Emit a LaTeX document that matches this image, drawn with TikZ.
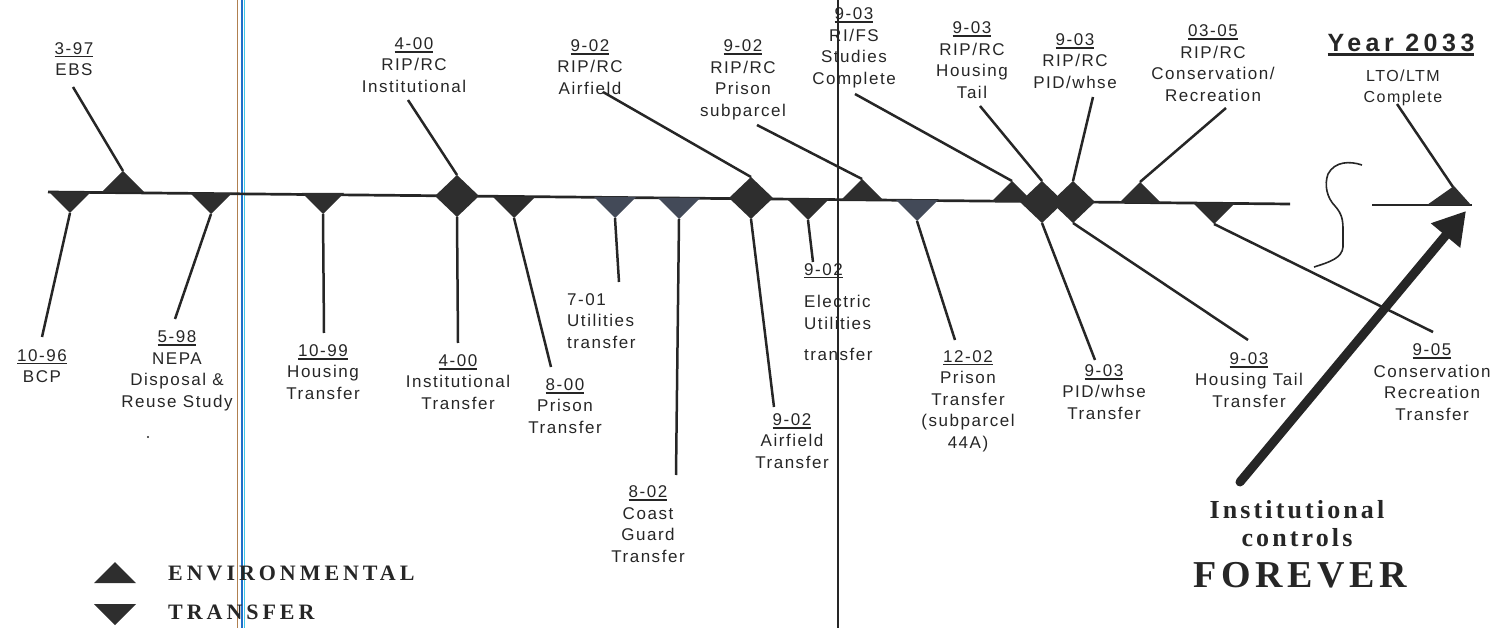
\documentclass[tikz,border=0pt]{standalone}
\usepackage{fontspec}
\setmainfont{Liberation Sans}
\newfontfamily\labfont[LetterSpace=9]{Liberation Sans}
\newfontfamily\yearfont[LetterSpace=18]{Liberation Sans}
\newfontfamily\legfont[LetterSpace=12]{Liberation Serif}
\newfontfamily\keyfont[LetterSpace=18]{Liberation Serif}
\usetikzlibrary{arrows.meta}
\definecolor{ink}{HTML}{262626}
\definecolor{markfill}{HTML}{2E2E2E}
\definecolor{haze}{HTML}{434A58}
\definecolor{scanbrown}{HTML}{B08050}
\definecolor{scanblue}{HTML}{1F6FC8}
\definecolor{scancyan}{HTML}{40C8E8}
% underlined date
\newcommand\dte[2][1.6pt]{\leavevmode\setbox0=\hbox{#2}\vtop{\copy0\kern1.4pt\hrule height #1 width \wd0}}

\begin{document}
\begin{tikzpicture}[x=1pt,y=-1pt,
  lbl/.style={align=center,font=\labfont\fontsize{17}{21.5}\selectfont,text=ink},
  lead/.style={draw=ink,line width=2.5pt},
  timeline/.style={draw=ink,line width=2.7pt},
  legtext/.style={font=\keyfont\bfseries\fontsize{22}{24}\selectfont,text=ink},
  pics/envmark/.style={code={\fill[#1] (-21,0) -- (0,-21) -- (21,0) -- cycle;
    \coordinate (-tip) at (0,-21);}},
  pics/envmark/.default=markfill,
  pics/xfermark/.style={code={\fill[#1] (-21,0) -- (0,21) -- (21,0) -- cycle;
    \coordinate (-tip) at (0,21);}},
  pics/xfermark/.default=markfill,
  pics/ripmark/.style={code={\fill[markfill] (-22,0) -- (0,-21) -- (22,0) -- (0,21) -- cycle;
    \coordinate (-top) at (0,-21); \coordinate (-bot) at (0,21);}}]
\tikzstyle{every node}+=[inner sep=0pt]
\useasboundingbox (0,0) rectangle (1508,628);

% scan marks
\draw[scanbrown,line width=1pt] (237,0) -- (237,628);
\draw[scanblue,line width=2pt] (242,0) -- (242,628);
\draw[scancyan,line width=0.8pt] (244,0) -- (244,628);
\draw[ink,line width=1.5pt] (838,0) -- (838,628);

% time line
\draw[timeline] (48,192) -- (1290,204);
\draw[timeline] (1372,205) -- (1472,205);
\draw[ink,line width=1.6pt] (1362,165) .. controls (1350,161) and (1335,161) .. (1328,174)
  .. controls (1324,185) and (1327,198) .. (1335,206)
  .. controls (1342,214) and (1343,220) .. (1343,230) -- (1343,247)
  .. controls (1342,258) and (1330,262) .. (1314,267);

% markers
\pic (bcp) at (70,192) {xfermark};
\pic (ebs) at (123,192) {envmark};
\pic (nepa) at (211,193) {xfermark};
\pic (hous) at (323,193) {xfermark};
\pic (inst) at (457,196) {ripmark};
\pic (pris) at (514,197) {xfermark};
\pic (util) at (615,197) {xfermark=haze};
\pic (coast) at (679,198) {xfermark=haze};
\pic (air) at (751,198) {ripmark};
\pic (elec) at (808,199) {xfermark};
\pic (psub) at (862,200) {envmark};
\pic (p44a) at (917,200) {xfermark=haze};
\pic (rifs) at (1012,202) {envmark};
\pic (htail) at (1042,202) {ripmark};
\pic (pid) at (1073,202) {ripmark};
\pic (cons) at (1140,203) {envmark};
\pic (consx) at (1214,203) {xfermark};
\fill[markfill] (1427,205) -- (1454,186) -- (1471,205) -- cycle;
\coordinate (year-tip) at (1453,187);

% labels
\node[lbl] (lab-bcp) at (42,366) {\dte{10-96}\\BCP};
\node[lbl] (lab-ebs) at (74,59) {\dte{3-97}\\EBS};
\node[lbl] (lab-nepa) at (177,371) {\dte{5-98}\\NEPA\\Disposal \&\\Reuse Study};
\node[lbl] (lab-hous) at (323,372) {\dte{10-99}\\Housing\\Transfer};
\node[lbl] (lab-inst-rip) at (414,65) {\dte{4-00}\\RIP/RC\\Institutional};
\node[lbl] (lab-inst) at (458,382) {\dte{4-00}\\Institutional\\Transfer};
\node[lbl] (lab-pris) at (565,406) {\dte{8-00}\\Prison\\Transfer};
\node[lbl,align=left,anchor=north west] (lab-util) at (567,293) {7-01\\Utilities\\transfer};
\node[lbl] (lab-coast) at (648,524) {\dte{8-02}\\Coast\\Guard\\Transfer};
\node[lbl] (lab-air-rip) at (590,67) {\dte{9-02}\\RIP/RC\\Airfield};
\node[lbl] (lab-air) at (792,441) {\dte{9-02}\\Airfield\\Transfer};
\node[lbl,align=left,anchor=north west] (lab-elec) at (804,263) {\dte{9-02}\\[11pt]Electric\\Utilities\\[10pt]transfer};
\node[lbl] (lab-psub) at (743,80) {\dte{9-02}\\RIP/RC\\Prison\\subparcel};
\node[lbl] (lab-rifs) at (854,48) {\dte{9-03}\\RI/FS\\Studies\\Complete};
\node[lbl] (lab-p44a) at (968,401) {\dte{12-02}\\Prison\\Transfer\\(subparcel\\44A)};
\node[lbl] (lab-htail-rip) at (972,60) {\dte{9-03}\\RIP/RC\\Housing\\Tail};
\node[lbl] (lab-pid-rip) at (1075,61) {\dte{9-03}\\RIP/RC\\PID/whse};
\node[lbl] (lab-pid) at (1104,392) {\dte{9-03}\\PID/whse\\Transfer};
\node[lbl] (lab-htail) at (1249,380) {\dte{9-03}\\Housing Tail\\Transfer};
\node[lbl] (lab-cons-rip) at (1213,63) {\dte{03-05}\\RIP/RC\\Conservation/\\Recreation};
\node[lbl] (lab-cons) at (1432,382) {\dte{9-05}\\Conservation\\Recreation\\Transfer};
\node[lbl,font=\yearfont\bfseries\fontsize{25}{27}\selectfont] (lab-year) at (1401,45) {\dte[2.4pt]{Year 2033}};
\node[lbl,font=\labfont\fontsize{16}{21.5}\selectfont] (lab-lto) at (1403,88) {LTO/LTM\\Complete};
\fill[ink] (148,437) circle (1.2);

% leader ends
\coordinate (bcp-end) at (42,337);
\coordinate (ebs-end) at (73,87);
\coordinate (nepa-end) at (175,319);
\coordinate (hous-end) at (324,333);
\coordinate (inst-up) at (408,100);
\coordinate (inst-dn) at (458,343);
\coordinate (pris-end) at (551,367);
\coordinate (util-end) at (619,282);
\coordinate (coast-end) at (676,475);
\coordinate (air-up) at (603,92);
\coordinate (air-dn) at (774,407);
\coordinate (elec-end) at (813,262);
\coordinate (psub-end) at (757,125);
\coordinate (rifs-end) at (855,94);
\coordinate (p44a-end) at (955,340);
\coordinate (htail-up) at (980,106);
\coordinate (htail-dn) at (1095,360);
\coordinate (pid-up) at (1093,97);
\coordinate (pid-dn) at (1248,340);
\coordinate (cons-up) at (1226,108);
\coordinate (consx-end) at (1433,332);
\coordinate (year-end) at (1397,104);

% leaders
\draw[lead] (bcp-tip) -- (bcp-end);
\draw[lead] (ebs-tip) -- (ebs-end);
\draw[lead] (nepa-tip) -- (nepa-end);
\draw[lead] (hous-tip) -- (hous-end);
\draw[lead] (inst-top) -- (inst-up);
\draw[lead] (inst-bot) -- (inst-dn);
\draw[lead] (pris-tip) -- (pris-end);
\draw[lead] (util-tip) -- (util-end);
\draw[lead] (coast-tip) -- (coast-end);
\draw[lead] (air-top) -- (air-up);
\draw[lead] (air-bot) -- (air-dn);
\draw[lead] (elec-tip) -- (elec-end);
\draw[lead] (psub-tip) -- (psub-end);
\draw[lead] (rifs-tip) -- (rifs-end);
\draw[lead] (p44a-tip) -- (p44a-end);
\draw[lead] (htail-top) -- (htail-up);
\draw[lead] (htail-bot) -- (htail-dn);
\draw[lead] (pid-top) -- (pid-up);
\draw[lead] (pid-bot) -- (pid-dn);
\draw[lead] (cons-tip) -- (cons-up);
\draw[lead] (consx-tip) -- (consx-end);
\draw[lead] (year-tip) -- (year-end);

% institutional controls
\coordinate (arr-tail) at (1240,482);
\coordinate (arr-head) at (1466,211);
\draw[ink,line width=9pt,line cap=round,-{Triangle[length=32pt,width=36pt]}] (arr-tail) -- (arr-head);
\node[font=\legfont\bfseries\fontsize{26}{28}\selectfont,text=ink,anchor=base] (ic-1) at (1297,518) {Institutional};
\node[font=\legfont\bfseries\fontsize{26}{28}\selectfont,text=ink,anchor=base] (ic-2) at (1297,546) {controls};
\node[font=\legfont\bfseries\fontsize{38}{40}\selectfont,text=ink,anchor=base] (ic-3) at (1300,587) {FOREVER};

% legend
\pic (leg-env) at (115,583) {envmark};
\pic (leg-xfer) at (115,604) {xfermark};
\node[legtext,anchor=west] (leg-env-txt) at (168,573) {ENVIRONMENTAL};
\node[legtext,anchor=west] (leg-xfer-txt) at (168,612) {TRANSFER};
\end{tikzpicture}
\end{document}
